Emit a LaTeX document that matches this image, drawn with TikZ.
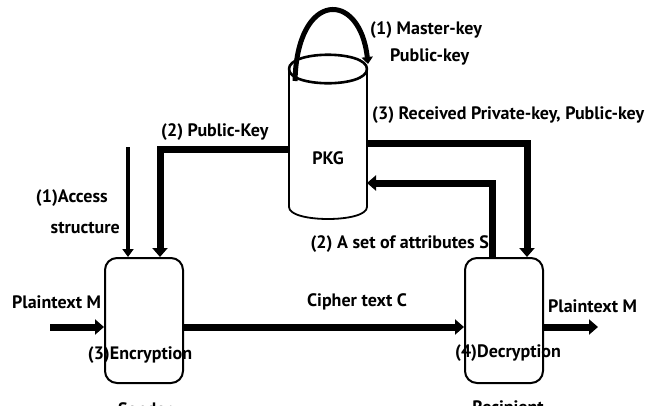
\documentclass[tikz,border=0pt]{standalone}
\usepackage{fontspec}
\setmainfont{PT Sans}
\usetikzlibrary{arrows.meta}
\begin{document}
\begin{tikzpicture}[x=1pt,y=-1pt,
  lbl/.style={inner sep=0pt,font=\fontsize{18}{20}\selectfont\bfseries},
  box/.style={draw,line width=2pt,rounded corners=12pt,minimum width=78pt,minimum height=125pt,inner sep=0pt},
  fat/.style={line width=7pt,-{Triangle[length=9pt,width=15pt]}},
  thin/.style={line width=4pt,-{Triangle[length=8pt,width=11pt]}}]
\useasboundingbox (0,0) rectangle (665,405);
% boxes
\node[box] (enc) at (144,320.5) {};
\node[box] (dec) at (504,320.5) {};
% PKG cylinder
\coordinate (tw) at (289,69);
\coordinate (te) at (367,69);
\coordinate (bw) at (289,207);
\coordinate (be) at (367,207);
\node[lbl] (pkg) at (328,158) {PKG};
\draw[line width=1.8pt] (tw) -- (bw) .. controls (289,223) and (367,223) .. (be) -- (te);
% self loop
\coordinate (l1) at (295,81);
\coordinate (l2) at (368,64);
\draw[line width=5pt,-{Triangle[length=7pt,width=11pt]}] (l1) .. controls (297,-10) and (360,-10) .. (l2);
% top ellipse, as two halves
\draw[line width=2.6pt,black] (tw) .. controls (289,50) and (367,50) .. (te);
\draw[line width=2.6pt,black] (te) .. controls (367,88) and (289,88) .. (tw);
% connectors
\coordinate (pk1) at (289,149);
\draw[fat] (pk1) -| ([xshift=16pt]enc.north);
\coordinate (ac1) at (128,147);
\draw[thin] (ac1) -- ([xshift=-16pt]enc.north);
\coordinate (rc1) at (367,143);
\draw[fat] (rc1) -| ([xshift=23pt]dec.north);
\coordinate (at1) at (367,183);
\draw[fat] ([xshift=-12pt]dec.north) |- (at1);
\coordinate (in1) at (50,327);
\draw[fat] (in1) -- (enc.west |- in1);
\draw[fat] (enc.east |- in1) -- (dec.west |- in1);
\coordinate (out1) at (598,327);
\draw[fat] (dec.east |- out1) -- (out1);
% labels
\node[lbl,anchor=west] (m1) at (370,30) {(1) Master-key};
\node[lbl,anchor=west] (m2) at (390,57) {Public-key};
\node[lbl,anchor=west] (m3) at (372,115) {(3) Received Private-key, Public-key};
\node[lbl,anchor=west] (m4) at (161,132) {(2) Public-Key};
\node[lbl,anchor=east] (m5) at (108,198) {(1)Access};
\node[lbl,anchor=east] (m6) at (120,228) {structure};
\node[lbl,anchor=east] (m7) at (489,244) {(2) A set of attributes S};
\node[lbl,anchor=west] (m8) at (12,302) {Plaintext M};
\node[lbl] (m9) at (357,302) {Cipher text C};
\node[lbl,anchor=west] (m10) at (548,306) {Plaintext M};
\node[lbl] (m11) at (140,355) {(3)Encryption};
\node[lbl] (m12) at (508,353) {(4)Decryption};
\node[lbl] (m13) at (145,409) {Sender};
\node[lbl] (m14) at (508,409) {Recipient};
\end{tikzpicture}
\end{document}
